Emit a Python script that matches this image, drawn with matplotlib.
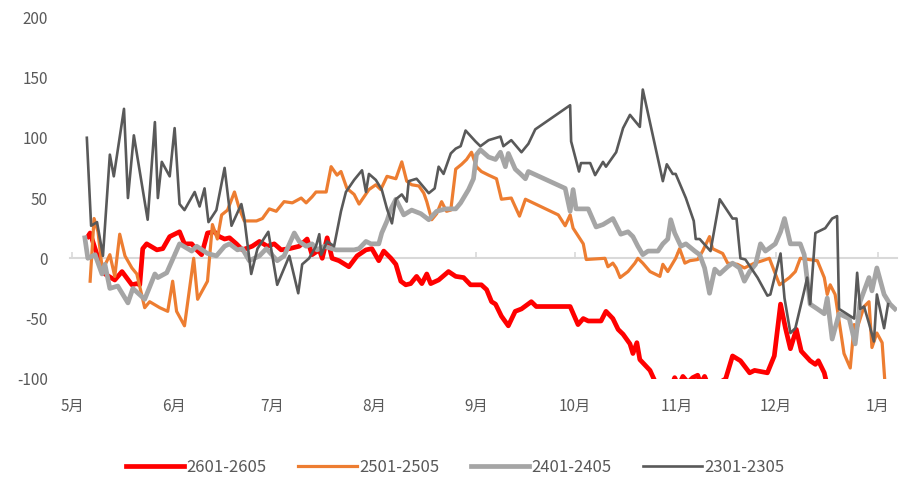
import matplotlib
matplotlib.use("Agg")
import matplotlib.pyplot as plt

plt.rcParams['font.family'] = ['Noto Sans CJK SC', 'DejaVu Sans']
plt.rcParams['axes.unicode_minus'] = False

# x = days since 1 May
red_x = [4.8, 5.5, 7.6, 10.0, 13.0, 15.2, 18.2, 19.7, 20.6, 21.5, 22.7, 25.8, 27.6, 29.7,
         31.2, 32.7, 34.2, 36.4, 37.9, 39.4, 41.2, 43.3, 44.8, 46.4, 47.9, 50.0, 51.8, 54.8,
         57.0, 59.4, 61.5, 63.6, 66.1, 69.1, 71.5, 73.0, 75.2, 76.1, 77.6, 79.1, 81.2, 84.2,
         86.7, 89.4, 91.2, 93.3, 94.8, 97.0, 98.5, 100.0, 101.5, 103.0, 104.8, 106.4, 107.9,
         109.1, 111.5, 114.5, 116.7, 119.1, 121.2, 124.5, 126.1, 127.6, 128.8, 130.6, 132.7,
         134.8, 136.7, 139.7, 141.2, 151.5, 153.9, 155.5, 157.0, 160.9, 162.4, 164.5, 166.1,
         167.6, 169.7, 170.6, 171.8, 172.7, 175.8, 177.3, 178.8, 180.6, 182.1, 183.3, 184.5,
         185.8, 187.3, 188.8, 190.3, 191.2, 192.4, 193.9, 196.4, 198.8, 200.9, 203.3, 206.1,
         207.6, 211.5, 213.6, 215.5, 217.0, 218.5, 220.3, 221.8, 224.5, 226.1, 227.0, 228.8,
         229.4, 231.2]
red_y = [18, 21, 3, -13, -18, -11, -22, -21, -22, 8, 12, 7, 8, 18,
         20, 22, 12, 12, 7, 3, 21, 22, 18, 16, 17, 12, 7, 10,
         14, 10, 12, 7, 8, 10, 16, 3, 7, 0, 17, 0, -2, -7,
         2, 7, 8, -2, 6, 0, -5, -19, -22, -21, -15, -21, -13,
         -21, -18, -11, -15, -16, -22, -22, -26, -36, -38, -48, -56,
         -44, -42, -36, -40, -40, -55, -50, -52, -52, -44, -50, -59,
         -63, -71, -79, -70, -84, -93, -102, -110, -104, -108, -99, -106,
         -98, -103, -99, -97, -104, -98, -108, -104, -100, -81, -85, -95,
         -93, -95, -81, -38, -58, -75, -59, -77, -85, -88, -85, -95,
         -102, -110]

orange_x = [5.5, 6.7, 7.9, 9.1, 10.3, 11.5, 13.0, 14.5, 16.1, 18.2, 19.7, 22.1, 23.6, 26.7,
            29.1, 30.6, 31.8, 34.2, 37.0, 38.2, 41.2, 42.7, 44.2, 45.5, 47.3, 49.4, 50.9, 52.4,
            56.1, 57.9, 60.0, 62.1, 64.5, 67.0, 69.7, 71.2, 73.0, 74.2, 77.3, 78.8, 80.6, 81.8,
            83.6, 85.8, 87.3, 88.8, 90.3, 92.4, 93.9, 95.8, 98.5, 100.3, 101.8, 103.3, 105.5,
            107.0, 107.9, 109.4, 110.9, 112.4, 113.9, 115.2, 116.7, 118.5, 120.0, 121.5, 123.0,
            124.5, 126.7, 129.1, 130.6, 133.6, 136.1, 137.9, 147.9, 150.0, 151.5, 152.4, 155.5,
            156.4, 162.1, 163.0, 164.5, 165.5, 166.7, 169.1, 171.2, 172.1, 173.6, 175.8, 178.8,
            179.7, 181.2, 183.6, 184.8, 186.4, 187.9, 190.3, 191.8, 193.9, 194.8, 197.9, 199.4,
            202.4, 204.5, 207.6, 210.0, 212.1, 215.2, 218.2, 220.0, 221.5, 226.7, 228.8, 229.7,
            230.6, 232.1, 234.8, 236.7, 237.9, 238.8, 240.9, 242.4, 243.3, 244.8, 246.4, 247.3]
orange_y = [-19, 33, 22, -7, -4, 3, -15, 20, 2, -8, -13, -41, -36, -41,
            -44, -19, -44, -56, 0, -34, -19, 28, 16, 36, 40, 55, 41, 31,
            31, 33, 41, 39, 47, 46, 50, 46, 51, 55, 55, 76, 69, 72,
            58, 53, 45, 51, 57, 61, 57, 68, 66, 80, 64, 61, 60,
            54, 47, 32, 37, 47, 39, 40, 74, 78, 82, 88, 76,
            72, 69, 66, 49, 50, 35, 49, 36, 27, 36, 25, 12,
            -1, 0, -7, -4, -8, -16, -11, -4, 0, -4, -11, -15,
            -5, -11, 0, 8, -4, -2, -1, 6, 18, 8, 4, -4,
            -5, -8, -4, -2, 0, -22, -16, -11, 0, -2, -16, -30,
            -22, -30, -79, -91, -55, -58, -40, -36, -74, -62, -70, -105]

grey_x = [3.9, 4.8, 7.0, 9.1, 10.0, 11.5, 13.9, 17.0, 18.5, 22.1, 25.2, 26.1, 28.8, 32.7,
          36.4, 37.9, 41.2, 43.9, 46.4, 47.9, 50.3, 51.8, 53.9, 57.0, 59.1, 62.4, 64.5, 67.6,
          69.1, 71.2, 73.0, 74.5, 76.7, 80.3, 82.1, 85.8, 87.3, 89.4, 90.9, 93.3, 94.2, 95.8,
          97.0, 98.5, 100.9, 103.3, 106.1, 108.5, 110.9, 113.6, 116.7, 118.2, 120.6, 122.1,
          123.0, 124.2, 126.7, 128.8, 130.3, 131.8, 132.7, 134.8, 136.4, 137.9, 138.8, 150.0,
          151.5, 152.4, 153.3, 157.0, 159.4, 161.5, 164.5, 166.9, 169.1, 170.6, 172.1, 173.6,
          175.2, 178.2, 179.7, 181.2, 182.1, 183.3, 185.2, 186.7, 189.4, 190.9, 192.4, 193.9,
          195.5, 197.0, 199.4, 200.9, 203.0, 204.5, 206.1, 207.9, 209.4, 210.9, 213.9, 215.5,
          216.7, 218.5, 221.5, 222.7, 224.5, 226.7, 228.8, 229.7, 231.2, 233.3, 236.4, 238.2,
          239.7, 242.4, 243.3, 244.8, 247.0, 248.8, 250.3]
grey_y = [17, 0, 3, -13, -5, -25, -23, -37, -25, -34, -13, -16, -12, 12,
          6, 10, 4, 2, 10, 12, 7, 8, -2, 2, 8, -2, 2, 21,
          14, 10, 12, 7, 10, 7, 7, 7, 8, 14, 12, 12, 21, 31,
          41, 49, 36, 40, 37, 32, 39, 41, 41, 46, 57, 66,
          86, 90, 84, 82, 88, 76, 87, 74, 70, 66, 72, 58,
          39, 57, 41, 41, 26, 28, 33, 20, 22, 18, 10, 3,
          6, 6, 12, 16, 32, 21, 10, 12, 6, 3, -8, -29,
          -9, -13, -7, -4, -8, -19, -11, -5, 12, 6, 12, 22,
          33, 12, 12, 3, -38, -42, -46, -33, -67, -46, -50, -71,
          -36, -16, -27, -8, -30, -38, -42]

dark_x = [4.5, 5.8, 7.6, 9.4, 11.5, 12.7, 15.8, 17.0, 18.8, 23.0, 25.2, 26.1, 27.3, 29.7,
          31.2, 32.7, 34.2, 37.3, 38.8, 40.3, 41.5, 43.9, 46.4, 48.5, 51.5, 52.4, 54.5, 56.4,
          59.7, 62.4, 66.1, 68.8, 70.0, 72.1, 74.2, 75.2, 75.8, 77.6, 79.7, 81.8, 83.3, 85.8,
          88.2, 89.4, 90.3, 92.4, 94.2, 95.8, 97.3, 98.5, 100.3, 101.8, 102.4, 104.8, 108.5,
          110.3, 111.5, 113.0, 115.2, 116.7, 118.2, 119.7, 122.7, 124.2, 125.2, 126.7, 130.3,
          131.2, 133.6, 136.7, 138.8, 140.9, 151.5, 151.8, 154.2, 154.8, 157.6, 159.1, 161.5,
          162.4, 165.5, 167.6, 169.7, 172.7, 173.6, 175.2, 179.7, 180.9, 182.7, 183.6, 186.7,
          189.1, 189.7, 190.9, 194.2, 197.0, 200.9, 202.1, 203.3, 204.8, 208.5, 211.5, 212.4,
          215.5, 216.7, 218.5, 220.0, 222.7, 223.6, 224.5, 226.1, 229.1, 231.2, 232.7, 233.3,
          237.9, 238.8, 239.7, 240.9, 242.4, 243.9, 244.8, 247.0, 248.2]
dark_y = [100, 27, 30, 2, 86, 68, 124, 50, 102, 32, 113, 50, 80, 68,
          108, 45, 40, 55, 43, 58, 30, 40, 75, 27, 45, 33, -13, 8,
          22, -22, 2, -29, -5, 0, 10, 20, 3, 14, 10, 39, 55, 65,
          73, 55, 70, 65, 57, 41, 29, 49, 53, 47, 64, 66, 54,
          58, 76, 70, 87, 91, 93, 106, 97, 93, 95, 98, 101,
          93, 98, 88, 95, 107, 127, 97, 72, 79, 79, 69, 80,
          76, 88, 108, 119, 109, 140, 120, 64, 78, 70, 70, 50,
          31, 16, 16, 6, 49, 33, 33, 0, -1, -16, -31, -30,
          4, -33, -62, -58, -27, -16, -38, 21, 25, 33, 35, -42,
          -50, -12, -42, -40, -54, -69, -30, -58, -38]

series = [
    ("2601-2605", red_x, red_y, "#FF0000", 3.4),
    ("2501-2505", orange_x, orange_y, "#ED7D31", 2.3),
    ("2401-2405", grey_x, grey_y, "#A5A5A5", 3.4),
    ("2301-2305", dark_x, dark_y, "#595959", 1.9),
]

month_pos = [0, 31, 61, 92, 123, 153, 184, 214, 245]
month_labels = ["5月", "6月", "7月", "8月", "9月", "10月", "11月", "12月", "1月"]

fig = plt.figure(figsize=(9.1, 4.92), dpi=100)
ax = fig.add_axes([0.077, 0.230, 0.909, 0.735])

for name, xs, ys, color, lw in series:
    ax.plot(xs, ys, color=color, linewidth=lw, label=name, solid_joinstyle="round")

ax.set_xlim(-0.6, 251)
ax.set_ylim(-100, 200)
ax.set_yticks([-100, -50, 0, 50, 100, 150, 200])
ax.set_xticks(month_pos)
ax.set_xticklabels(month_labels)
for s in ax.spines.values():
    s.set_visible(False)
ax.tick_params(axis="both", length=0, colors="#595959", labelsize=11)
ax.tick_params(axis="x", pad=14)
ax.tick_params(axis="y", pad=16)

# zero line with small month ticks
zero = ax.secondary_xaxis(100 / 300)
zero.set_xticks(month_pos)
zero.set_xticklabels([])
zero.spines["bottom"].set_color("#D9D9D9")
zero.spines["bottom"].set_linewidth(1.5)
zero.tick_params(direction="in", length=4, color="#D9D9D9", width=1.2)

fig.legend(loc="center", bbox_to_anchor=(0.5, 0.05), ncol=4, frameon=False,
           fontsize=12, labelcolor="#595959", handlelength=3.5,
           handletextpad=0.15, columnspacing=1.9)

fig.savefig("out.png", dpi=100)
